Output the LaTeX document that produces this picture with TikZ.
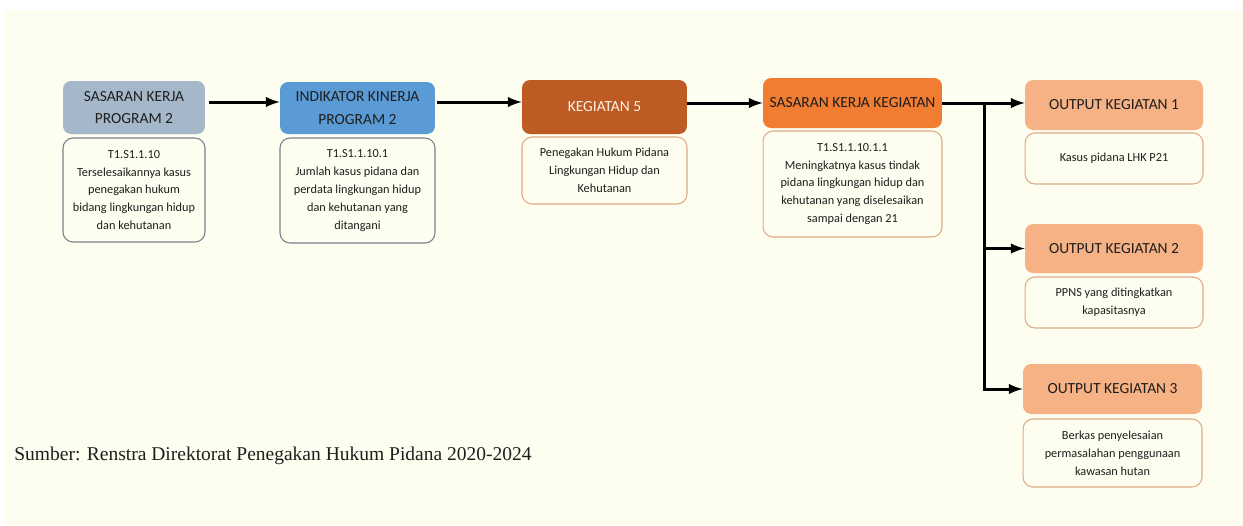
\documentclass[tikz,border=0pt]{standalone}
\usepackage{fontspec}
\setmainfont{Carlito}
\newfontfamily\srcfont{Liberation Serif}
\usetikzlibrary{shapes,arrows,positioning}

\definecolor{bgcream}{RGB}{254,254,240}
\definecolor{sasprog}{RGB}{165,184,202}
\definecolor{indprog}{RGB}{91,155,213}
\definecolor{keg}{RGB}{190,90,35}
\definecolor{saskeg}{RGB}{240,125,50}
\definecolor{outkeg}{RGB}{246,178,132}
\definecolor{txtdark}{RGB}{30,30,30}
\definecolor{grayline}{RGB}{120,128,140}
\definecolor{orline}{RGB}{222,170,135}

\begin{document}
\begin{tikzpicture}[x=0.02cm, y=-0.02cm, >=latex,
    head/.style={rounded corners=0.16cm, align=center, text=txtdark, font=\fontsize{8.8}{13}\selectfont, inner sep=0pt},
    body/.style={draw, rounded corners=0.2cm, fill=bgcream, align=center, text=txtdark, font=\fontsize{7}{10.2}\selectfont, inner sep=0pt, line width=0.6pt},
    link/.style={->, line width=1.7pt}]
				% background
				\fill[white] (0,0) rectangle (1243,525);
				\fill[bgcream] (3,10) rectangle (1243,525);
				\useasboundingbox (0,0) rectangle (1243,525);
				
				% program level
				\node[head, fill=sasprog, minimum width=2.84cm, minimum height=1.06cm] (sasprog) at (134,107.5) {SASARAN KERJA\\PROGRAM 2};
				\node[body, draw=grayline, minimum width=2.84cm, minimum height=2.08cm] (sasprogtxt) at (134,190) {T1.S1.1.10\\Terselesaikannya kasus\\penegakan hukum\\bidang lingkungan hidup\\dan kehutanan};
				\node[head, fill=indprog, minimum width=3.1cm, minimum height=1.04cm] (indprog) at (357.5,108) {INDIKATOR KINERJA\\PROGRAM 2};
				\node[body, draw=grayline, minimum width=3.1cm, minimum height=2.1cm] (indprogtxt) at (357.5,190.5) {T1.S1.1.10.1\\Jumlah kasus pidana dan\\perdata lingkungan hidup\\dan kehutanan yang\\ditangani};
				
				% kegiatan level
				\node[head, fill=keg, text=orange!10, minimum width=3.3cm, minimum height=1.08cm] (keg) at (604.5,107) {KEGIATAN 5};
				\node[body, draw=orline, minimum width=3.3cm, minimum height=1.34cm] (kegtxt) at (604.5,170.5) {Penegakan Hukum Pidana\\Lingkungan Hidup dan\\Kehutanan};
				\node[head, fill=saskeg, minimum width=3.58cm, minimum height=1.0cm] (saskeg) at (852.5,103) {SASARAN KERJA KEGIATAN};
				\node[body, draw=orline, minimum width=3.58cm, minimum height=2.12cm] (saskegtxt) at (852.5,184) {T1.S1.1.10.1.1\\Meningkatnya kasus tindak\\pidana lingkungan hidup dan\\kehutanan yang diselesaikan\\sampai dengan 21};
				
				% outputs
				\node[head, fill=outkeg, minimum width=3.56cm, minimum height=1.0cm] (out1) at (1114,105) {OUTPUT KEGIATAN 1};
				\node[body, draw=orline, minimum width=3.56cm, minimum height=1.02cm] (out1txt) at (1114,158.5) {Kasus pidana LHK P21};
				\node[head, fill=outkeg, minimum width=3.56cm, minimum height=0.98cm] (out2) at (1114,248.5) {OUTPUT KEGIATAN 2};
				\node[body, draw=orline, minimum width=3.56cm, minimum height=1.02cm] (out2txt) at (1114,302.5) {PPNS yang ditingkatkan\\kapasitasnya};
				\node[head, fill=outkeg, minimum width=3.58cm, minimum height=1.0cm] (out3) at (1112.5,389) {OUTPUT KEGIATAN 3};
				\node[body, draw=orline, minimum width=3.58cm, minimum height=1.36cm] (out3txt) at (1112.5,453) {Berkas penyelesaian\\permasalahan penggunaan\\kawasan hutan};
				
				% source
				\node[anchor=base west, inner sep=0pt, text=txtdark, font=\srcfont\fontsize{11.1}{13}\selectfont] (src) at (14,460) {Sumber: Renstra Direktorat Penegakan Hukum Pidana 2020-2024};
				
				% connectors
				\coordinate (rowa) at (0,102);
				\coordinate (rowb) at (0,103);
				\coordinate (split) at (984,103);
				\draw[link] ([xshift=2pt]sasprog.east |- rowa) -- (indprog.west |- rowa);
				\draw[link] ([xshift=1pt]indprog.east |- rowa) -- (keg.west |- rowa);
				\draw[link] (keg.east |- rowb) -- (saskeg.west |- rowb);
				\draw[link] (saskeg.east) -- (out1.west |- rowb);
				\draw[link] (split) |- (out2.west);
				\draw[link] (split) |- (out3.west);
			\end{tikzpicture}
\end{document}
